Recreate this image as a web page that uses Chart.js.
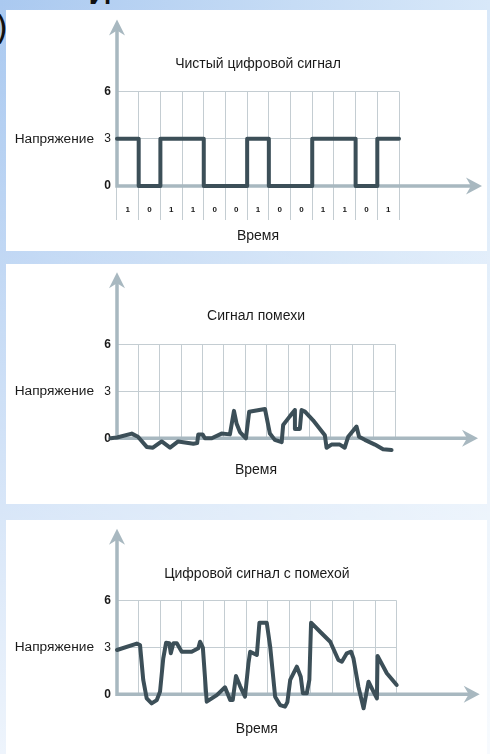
<!DOCTYPE html>
<html>
<head>
<meta charset="utf-8">
<script src="https://cdn.jsdelivr.net/npm/chart.js@4.4.1/dist/chart.umd.min.js"></script>
<style>
  html, body { margin: 0; padding: 0; }
  body {
    width: 490px; height: 754px; overflow: hidden; position: relative;
    background:
      linear-gradient(to bottom, rgba(255,255,255,0) 0%, rgba(255,255,255,0.8) 100%),
      linear-gradient(90deg, #aac9f0 0%, #c6dcf5 60%, #d8e8f9 100%);
  }
  .panel { position: absolute; left: 6px; width: 481px; background: #fff; }
  .panel canvas { display: block; }
  .bgtxt { position: absolute; color: #111; font-family: "DejaVu Sans"; line-height: 1; }
</style>
</head>
<body>
<div class="bgtxt" style="left:-5px; top:11px; font-size:34px;">)</div>
<div class="bgtxt" style="left:87px; top:-30px; font-size:40px;">й</div>

<div class="panel" style="top:10px; height:241px;"><canvas id="cClean" width="481" height="241"></canvas></div>
<div class="panel" style="top:264px; height:240px;"><canvas id="cNoise" width="481" height="240"></canvas></div>
<div class="panel" style="top:520px; height:234px;"><canvas id="cMix" width="481" height="234"></canvas></div>

<script>
// данные
const yTicks = [0, 3, 6];
const bits = ['1', '0', '1', '1', '0', '0', '1', '0', '0', '1', '1', '0', '1'];
const blankCells = ['', '', '', '', '', '', '', '', '', '', '', '', ''];

// чистый сигнал (ступеньки по тактам)
const cleanT = [0, 1, 2, 3, 4, 5, 6, 7, 8, 9, 10, 11, 12, 13];
const cleanV = [3, 0, 3, 3, 0, 0, 3, 0, 0, 3, 3, 0, 3, 3];

// сигнал помехи
const noiseT = [-0.3, 0.0, 0.69, 0.98, 1.39, 1.68, 2.09, 2.48, 2.86, 3.57, 3.75, 3.8, 4.0, 4.11, 4.43,
  4.89, 5.28, 5.47, 5.59, 5.75, 6.03, 6.18, 6.92, 7.15, 7.38, 7.7, 7.77, 8.08, 8.32, 8.32, 8.55,
  8.63, 8.79, 9.17, 9.49, 9.72, 9.8, 10.03, 10.42, 10.65, 10.81, 11.2, 11.32, 11.59, 12.06, 12.44, 12.84];
const noiseV = [0.0, 0.05, 0.3, 0.1, -0.55, -0.6, -0.2, -0.6, -0.2, -0.35, -0.3, 0.25, 0.25, 0.0, 0.0,
  0.3, 0.25, 1.75, 0.95, 0.4, 0.0, 1.7, 1.87, 0.3, -0.1, -0.25, 0.85, 1.4, 1.8, 0.6, 0.6,
  1.8, 1.7, 1.15, 0.6, 0.2, -0.6, -0.4, -0.4, -0.6, 0.1, 0.75, 0.1, -0.1, -0.4, -0.7, -0.75];

// цифровой сигнал с помехой
const mixT = [0, 0.92, 1.07, 1.22, 1.38, 1.61, 1.85, 2.0, 2.15, 2.28, 2.43, 2.5, 2.62, 2.78, 3.01,
  3.47, 3.78, 3.86, 3.99, 4.17, 4.64, 5.02, 5.26, 5.38, 5.53, 5.72, 5.95, 6.11, 6.19, 6.5, 6.62,
  6.96, 7.12, 7.35, 7.58, 7.81, 7.92, 8.05, 8.36, 8.54, 8.64, 8.82, 8.94, 9.02, 9.44, 9.91, 10.29,
  10.45, 10.68, 10.88, 10.99, 11.22, 11.46, 11.69, 11.92, 12.08, 12.11, 12.54, 13.0];
const mixV = [2.84, 3.25, 3.16, 0.92, -0.26, -0.58, -0.37, 0.17, 2.3, 3.3, 3.27, 2.63, 3.27, 3.27, 2.73,
  2.73, 2.95, 3.37, 3.0, -0.47, -0.05, 0.45, -0.37, -0.37, 1.17, 0.53, -0.15, 1.99, 2.73, 2.52, 4.59,
  4.59, 3.05, -0.15, -0.69, -0.79, -0.5, 0.92, 1.77, 1.13, 0.06, 0.06, 0.92, 4.59, 4.01, 3.37, 2.2,
  2.09, 2.63, 2.73, 2.3, 0.49, -0.9, 0.81, 0.17, -0.26, 2.46, 1.35, 0.6];

const FONT = '"Liberation Sans", Arial, sans-serif';
const TEXT = '#1a1a1a';
const GRID = '#c4cdd2';
const AXIS = '#a8b8c0';
const LINE = '#3c4f58';

// стрелки осей
const axisArrows = {
  id: 'axisArrows',
  beforeDatasetsDraw(chart) {
    const { ctx, chartArea: a, scales } = chart;
    const y0 = scales.y.getPixelForValue(0);
    const x0 = scales.xd.getPixelForValue(0);
    const xTip = a.right + 83;
    const yTip = a.top - 72;
    ctx.save();
    ctx.strokeStyle = AXIS;
    ctx.fillStyle = AXIS;
    ctx.lineWidth = 3.5;
    ctx.beginPath();
    ctx.moveTo(x0 - 1.75, y0);
    ctx.lineTo(xTip - 10, y0);
    ctx.moveTo(x0, y0);
    ctx.lineTo(x0, yTip + 10);
    ctx.stroke();
    ctx.beginPath();
    ctx.moveTo(xTip, y0);
    ctx.lineTo(xTip - 16, y0 - 8.5);
    ctx.lineTo(xTip - 11, y0);
    ctx.lineTo(xTip - 16, y0 + 8.5);
    ctx.closePath();
    ctx.fill();
    ctx.beginPath();
    ctx.moveTo(x0, yTip);
    ctx.lineTo(x0 - 8, yTip + 16);
    ctx.lineTo(x0, yTip + 11);
    ctx.lineTo(x0 + 8, yTip + 16);
    ctx.closePath();
    ctx.fill();
    ctx.restore();
  }
};

function toPoints(ts, vs) {
  return ts.map((t, i) => ({ x: t, y: vs[i] }));
}

function makeChart(id, cfg) {
  return new Chart(document.getElementById(id), {
    type: 'line',
    data: {
      datasets: [{
        data: toPoints(cfg.t, cfg.v),
        xAxisID: 'xd',
        yAxisID: 'y',
        borderColor: LINE,
        borderWidth: cfg.lw,
        pointRadius: 0,
        stepped: cfg.stepped,
        tension: 0,
        clip: false,
        borderJoinStyle: 'round',
        borderCapStyle: 'round'
      }]
    },
    options: {
      responsive: false,
      animation: false,
      layout: { padding: { left: 0, right: cfg.padRight, top: 0, bottom: 0 } },
      plugins: {
        legend: { display: false },
        tooltip: { enabled: false },
        title: {
          display: true, text: cfg.title, fullSize: false, color: TEXT,
          font: { family: FONT, size: 14, weight: 'normal' },
          padding: { top: cfg.titleTop, bottom: cfg.titleBottom }
        }
      },
      scales: {
        xd: { type: 'linear', display: false, min: 0, max: 13 },
        x: {
          type: 'category', labels: cfg.labels, position: 'bottom', offset: true,
          grid: { offset: true, color: GRID, lineWidth: 1, drawTicks: cfg.showBits, tickLength: 34 },
          border: { display: false },
          ticks: {
            display: cfg.showBits, color: TEXT, padding: -15, maxRotation: 0, autoSkip: false,
            font: { family: FONT, size: 8, weight: 'bold' }
          },
          title: {
            display: true, text: 'Время', color: TEXT,
            font: { family: FONT, size: 14 },
            padding: { top: 0, bottom: cfg.timePad }
          },
          afterFit: s => { s.height = cfg.xHeight; }
        },
        y: {
          type: 'linear', position: 'left', weight: 0, min: 0, max: 6,
          afterBuildTicks: s => { s.ticks = yTicks.map(v => ({ value: v })); },
          grid: { color: GRID, drawTicks: false },
          border: { display: false },
          ticks: {
            color: TEXT, padding: 6,
            font: c => ({ family: FONT, size: 12, weight: c.tick && c.tick.value === 3 ? 'normal' : 'bold' })
          },
          afterFit: s => { s.width = 21; }
        },
        yl: {
          type: 'linear', position: 'left', weight: 1, min: 0, max: 6,
          afterBuildTicks: s => { s.ticks = [{ value: 3 }]; },
          grid: { display: false, drawTicks: false },
          border: { display: false },
          ticks: { color: TEXT, padding: 2, font: { family: FONT, size: 13.7 }, callback: () => 'Напряжение' },
          afterFit: s => { s.width = 90; }
        }
      }
    },
    plugins: [axisArrows]
  });
}

makeChart('cClean', {
  t: cleanT, v: cleanV, stepped: true, lw: 4, labels: bits, showBits: true,
  title: 'Чистый цифровой сигнал', titleTop: 45.4, titleBottom: 19.3,
  padRight: 88, xHeight: 65, timePad: 6.4
});

makeChart('cNoise', {
  t: noiseT, v: noiseV, stepped: false, lw: 4, labels: blankCells, showBits: false,
  title: 'Сигнал помехи', titleTop: 43.8, titleBottom: 19.7,
  padRight: 92, xHeight: 65.7, timePad: 25.6
});

makeChart('cMix', {
  t: mixT, v: mixV, stepped: false, lw: 4, labels: blankCells, showBits: false,
  title: 'Цифровой сигнал с помехой', titleTop: 45.8, titleBottom: 18.1,
  padRight: 90.3, xHeight: 59.7, timePad: 16.6
});
</script>
</body>
</html>
